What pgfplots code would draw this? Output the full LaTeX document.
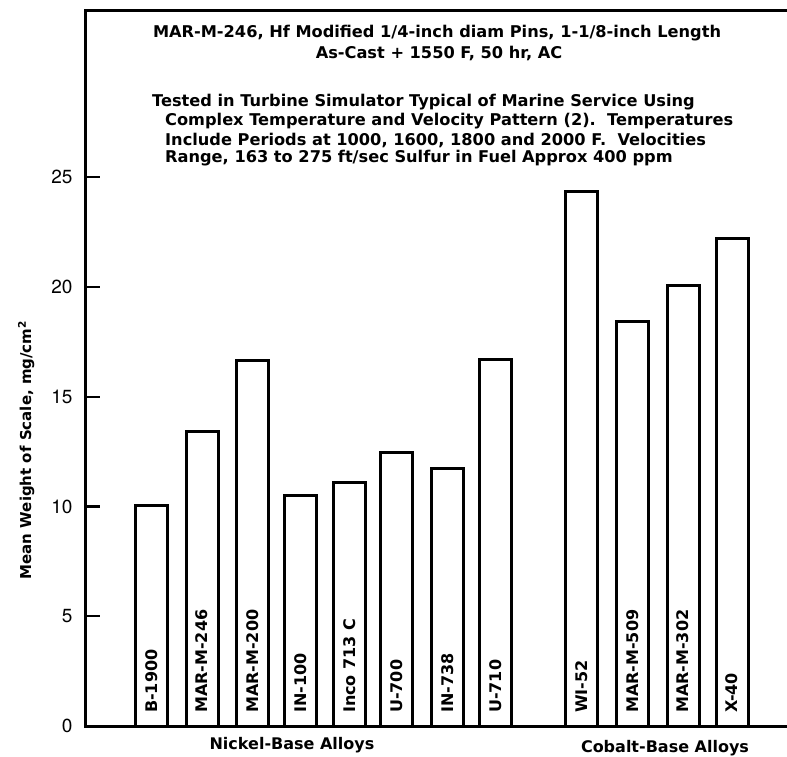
\documentclass[border=0pt]{standalone}
\usepackage{pgfplots}
\pgfplotsset{compat=1.18}
\usepackage{fontspec}
\setmainfont{DejaVu Sans}
\newfontfamily\heros{TeX Gyre Heros}
\begin{document}
\begin{tikzpicture}
\path[use as bounding box] (0pt,0pt) rectangle (787pt,-756pt);
\begin{axis}[
  at={(85pt,-726pt)}, anchor=south west,
  scale only axis, width=705pt, height=716pt,
  xmin=-0.365, xmax=14.0, ymin=0, ymax=32.62,
  xtick=\empty,
  ytick={0,5,10,15,20,25},
  ytick pos=left, tick align=inside,
  major tick length=15pt,
  tick style={draw=black, line width=2.2pt},
  axis line style={line width=3pt},
  /pgf/number format/assume math mode=true,
  yticklabel style={font=\heros\fontsize{19}{19}\selectfont, xshift=-9pt},
  ylabel={\bfseries\fontsize{15}{15}\selectfont Mean Weight of Scale, mg/cm\textsuperscript{2}},
  every axis y label/.style={at={(axis description cs:-0.0835,0.3855)}, rotate=90, anchor=center},
  clip=false,
]
\addplot[ybar, bar width=32pt, bar shift=0pt, fill=white, draw=black, line width=3pt]
  coordinates {(1,10.05) (2.02,13.44) (3.05,16.67) (4.02,10.48) (5.02,11.08) (5.99,12.44)
               (7.02,11.75) (8.0,16.72) (9.75,24.34) (10.8,18.42) (11.82,20.09) (12.82,22.23)};
\addplot[draw=none, mark=none, nodes near coords, point meta=explicit symbolic,
  every node near coord/.append style={rotate=90, anchor=west, inner sep=0pt,
    font=\bfseries\fontsize{16}{16}\selectfont}]
  coordinates {(1,0.59) [B-1900] (2.02,0.59) [MAR-M-246] (3.05,0.59) [MAR-M-200]
               (4.02,0.59) [IN-100] (5.02,0.59) [Inco 713 C] (5.99,0.59) [U-700]
               (7.02,0.59) [IN-738] (8.0,0.59) [U-710] (9.75,0.59) [WI-52]
               (10.8,0.59) [MAR-M-509] (11.82,0.59) [MAR-M-302] (12.82,0.59) [X-40]};
\draw[black, line width=2.4pt] (axis cs:-0.365,5) -- (axis cs:-0.06,5);
\draw[black, line width=2.4pt] (axis cs:-0.365,10) -- (axis cs:-0.06,10);
\draw[black, line width=2.4pt] (axis cs:-0.365,15) -- (axis cs:-0.06,15);
\draw[black, line width=2.4pt] (axis cs:-0.365,20) -- (axis cs:-0.06,20);
\draw[black, line width=2.4pt] (axis cs:-0.365,25) -- (axis cs:-0.06,25);
\node[font=\bfseries\fontsize{16}{16}\selectfont] at (axis description cs:0.2936,-0.0265) {Nickel-Base Alloys};
\node[font=\bfseries\fontsize{16}{16}\selectfont] at (axis description cs:0.8227,-0.0307) {Cobalt-Base Alloys};
\end{axis}
\begin{scope}[every node/.style={font=\bfseries\fontsize{16.2}{16.2}\selectfont, inner sep=0pt}]
\node at (437pt,-33pt) {MAR-M-246, Hf Modified 1/4-inch diam Pins, 1-1/8-inch Length};
\node at (439pt,-53pt) {As-Cast + 1550 F, 50 hr, AC};
\node[anchor=west] at (152pt,-102pt) {Tested in Turbine Simulator Typical of Marine Service Using};
\node[anchor=west] at (165pt,-121pt) {Complex Temperature and Velocity Pattern (2).\ \ Temperatures};
\node[anchor=west] at (165pt,-140pt) {Include Periods at 1000, 1600, 1800 and 2000 F.\ \ Velocities};
\node[anchor=west] at (165pt,-158pt) {Range, 163 to 275 ft/sec Sulfur in Fuel Approx 400 ppm};
\end{scope}
\end{tikzpicture}
\end{document}
